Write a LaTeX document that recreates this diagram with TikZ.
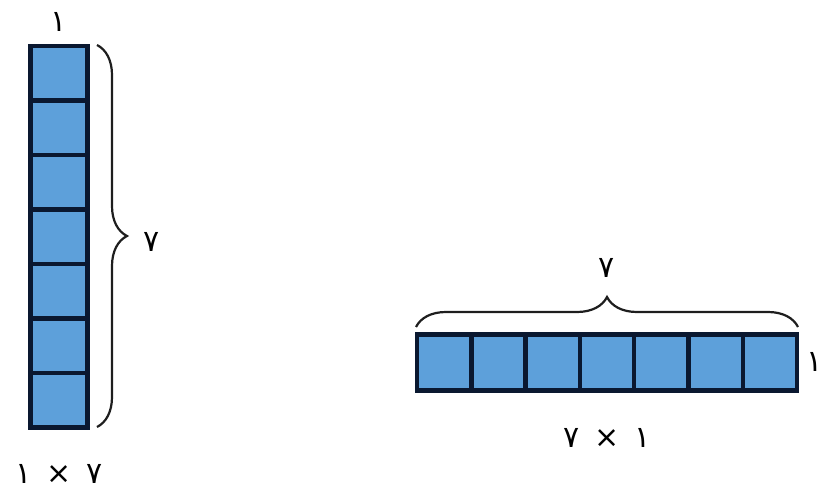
\documentclass[tikz,border=0pt]{standalone}
\usepackage{fontspec}
\newfontfamily\arabicfont[Script=Arabic]{DejaVu Sans}
\usetikzlibrary{decorations.pathreplacing}
\TeXXeTstate=1
\definecolor{cellfill}{RGB}{93,160,218}
\definecolor{celledge}{RGB}{10,24,48}
\definecolor{bracecol}{RGB}{30,30,30}
\begin{document}
\begin{tikzpicture}[x=1pt,y=-1pt,
  cellv/.style={draw=celledge,fill=cellfill,line width=4.5pt,minimum width=57pt,minimum height=54.5pt,inner sep=0pt,outer sep=0pt},
  cellh/.style={draw=celledge,fill=cellfill,line width=4.5pt,minimum width=54.3pt,minimum height=56pt,inner sep=0pt,outer sep=0pt},
  lbl/.style={font=\arabicfont\fontsize{30}{32}\selectfont,inner sep=0pt},
  bracestyle/.style={draw=bracecol,line width=2.2pt,decorate,decoration={brace,amplitude=30pt}}]
\useasboundingbox (0,0) rectangle (822,495);
% left column
\foreach \i in {1,...,7}{
  \node[cellv] (l\i) at (59,{46+54.5*(\i-0.5)}) {};
}
% right row
\foreach \i in {1,...,7}{
  \node[cellh] (r\i) at ({417+54.3*(\i-0.5)},362.5) {};
}
% braces
\coordinate (lb1) at (97,45);
\coordinate (lb2) at (97,427);
\draw[bracestyle] (lb1) -- (lb2);
\coordinate (rb1) at (416,327);
\coordinate (rb2) at (798,327);
\draw[bracestyle] (rb1) -- (rb2);
% labels
\node[lbl] (ltop) at (59,22) {١};
\node[lbl] (lside) at (152,242) {٧};
\node[lbl] (lbot) at (59,474) {\beginR ٧\ \,×\ \,١\endR};
\node[lbl] (rtop) at (607,268) {٧};
\node[lbl] (rside) at (815,362) {١};
\node[lbl] (rbot) at (607,438) {\beginR ١\ \,×\ \,٧\endR};
\end{tikzpicture}
\end{document}
